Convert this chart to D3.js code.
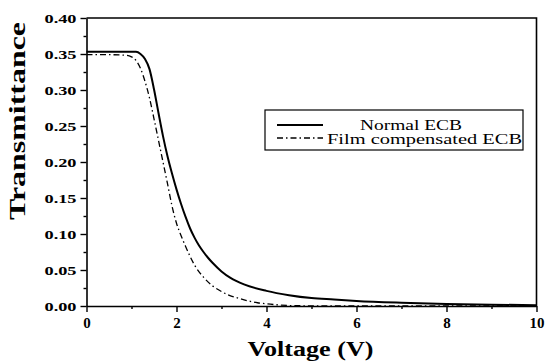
<!DOCTYPE html>
<html>
<head>
<meta charset="utf-8">
<script src="https://cdn.jsdelivr.net/npm/d3@7"></script>
<style>
  body { margin: 0; background: #fff; }
  text { font-family: "Liberation Serif", "Times New Roman", serif; }
</style>
</head>
<body>
<div id="chart"></div>
<script>
// values
var normalV = [0, 0.5, 1.0, 1.1, 1.2, 1.3, 1.4, 1.5, 1.6, 1.7, 1.8, 1.9, 2.0, 2.1, 2.2, 2.3, 2.4, 2.5, 2.6, 2.7, 2.8, 3.0, 3.2, 3.5, 4.0, 4.5, 5.0, 5.5, 6, 7, 8, 9, 10];
var normalT = [0.353, 0.353, 0.353, 0.353, 0.350, 0.343, 0.329, 0.301, 0.268, 0.236, 0.208, 0.184, 0.162, 0.142, 0.124, 0.108, 0.095, 0.084, 0.075, 0.067, 0.060, 0.048, 0.039, 0.030, 0.021, 0.015, 0.011, 0.009, 0.007, 0.0045, 0.0028, 0.0018, 0.0012];

var filmV = [0, 0.5, 0.9, 1.0, 1.1, 1.2, 1.3, 1.4, 1.5, 1.6, 1.7, 1.8, 1.9, 2.0, 2.1, 2.2, 2.4, 2.6, 2.8, 3.0, 3.2, 3.4, 3.6, 3.8, 4.0, 4.3, 4.6, 5.0, 6, 8, 10];
var filmT = [0.349, 0.349, 0.348, 0.346, 0.341, 0.330, 0.312, 0.289, 0.260, 0.230, 0.200, 0.170, 0.139, 0.115, 0.098, 0.083, 0.057, 0.040, 0.028, 0.020, 0.014, 0.0105, 0.007, 0.0045, 0.003, 0.0014, 0.0005, 0.0002, 0, 0, 0];

var seriesNames = ["Normal ECB", "Film compensated ECB"];
var xTicks = [0, 2, 4, 6, 8, 10];
var xMinor = [1, 3, 5, 7, 9];
var yTicks = [0, 0.05, 0.10, 0.15, 0.20, 0.25, 0.30, 0.35, 0.40];
var yMinor = [0.025, 0.075, 0.125, 0.175, 0.225, 0.275, 0.325, 0.375];

var W = 545, H = 363;
var pl = 86.5, pr = 536.5, pt = 18, pb = 306;

var svg = d3.select("#chart").append("svg")
    .attr("width", W)
    .attr("height", H);

var x = d3.scaleLinear().domain([0, 10]).range([pl, pr]);
var y = d3.scaleLinear().domain([0, 0.4]).range([pb, pt]);

// frame (top / right)
svg.append("path")
    .attr("d", "M" + pl + "," + pt + "H" + pr + "V" + pb)
    .attr("fill", "none")
    .attr("stroke", "#000")
    .attr("stroke-width", 1.6);

// x axis
svg.append("g")
    .attr("transform", "translate(0," + pb + ")")
    .call(d3.axisBottom(x).tickValues(xMinor).tickSize(3).tickFormat(""))
    .call(function (g) { g.select(".domain").remove(); })
    .selectAll("line").attr("stroke-width", 1.4);

var xAxis = svg.append("g")
    .attr("transform", "translate(0," + pb + ")")
    .call(d3.axisBottom(x).tickValues(xTicks).tickSize(6).tickSizeOuter(0).tickPadding(5)
        .tickFormat(d3.format("d")));
xAxis.select(".domain").attr("stroke-width", 1.6);
xAxis.selectAll("line").attr("stroke-width", 1.4);
xAxis.selectAll("text")
    .attr("font-family", "Liberation Serif")
    .attr("font-weight", "bold")
    .attr("font-size", 15)
    .attr("fill", "#000");
xAxis.attr("font-size", 15).attr("font-family", null);

// y axis
svg.append("g")
    .attr("transform", "translate(" + pl + ",0)")
    .call(d3.axisLeft(y).tickValues(yMinor).tickSize(3).tickFormat(""))
    .call(function (g) { g.select(".domain").remove(); })
    .selectAll("line").attr("stroke-width", 1.4);

var yAxis = svg.append("g")
    .attr("transform", "translate(" + pl + ",0)")
    .call(d3.axisLeft(y).tickValues(yTicks).tickSize(6).tickSizeOuter(0).tickPadding(4)
        .tickFormat(d3.format(".2f")));
yAxis.attr("font-size", 13).attr("font-family", null);
yAxis.select(".domain").attr("stroke-width", 1.6);
yAxis.selectAll("line").attr("stroke-width", 1.4);
yAxis.selectAll("text")
    .attr("font-weight", "bold")
    .attr("fill", "#000")
    .attr("textLength", 32)
    .attr("lengthAdjust", "spacingAndGlyphs");

// axis titles
svg.append("text")
    .attr("x", (pl + pr) / 2 - 1)
    .attr("y", 356)
    .attr("text-anchor", "middle")
    .attr("font-weight", "bold")
    .attr("font-size", 20)
    .attr("textLength", 126)
    .attr("lengthAdjust", "spacingAndGlyphs")
    .text("Voltage (V)");

svg.append("text")
    .attr("transform", "translate(25,121) rotate(-90)")
    .attr("text-anchor", "middle")
    .attr("font-weight", "bold")
    .attr("font-size", 23)
    .attr("textLength", 198)
    .attr("lengthAdjust", "spacingAndGlyphs")
    .text("Transmittance");

// curves
var line = d3.line()
    .x(function (d) { return x(d[0]); })
    .y(function (d) { return y(d[1]); })
    .curve(d3.curveMonotoneX);

var normalData = normalV.map(function (v, i) { return [v, normalT[i]]; });
var filmData = filmV.map(function (v, i) { return [v, filmT[i]]; });

svg.append("path")
    .datum(filmData)
    .attr("d", line)
    .attr("fill", "none")
    .attr("stroke", "#000")
    .attr("stroke-width", 1.3)
    .attr("stroke-dasharray", "6,3,1.5,3");

svg.append("path")
    .datum(normalData)
    .attr("d", line)
    .attr("fill", "none")
    .attr("stroke", "#000")
    .attr("stroke-width", 2);

// legend
var lg = svg.append("g");
lg.append("rect")
    .attr("x", 265).attr("y", 110)
    .attr("width", 258).attr("height", 40)
    .attr("fill", "#fff")
    .attr("stroke", "#000")
    .attr("stroke-width", 1.2);
lg.append("line")
    .attr("x1", 277).attr("x2", 323).attr("y1", 125).attr("y2", 125)
    .attr("stroke", "#000").attr("stroke-width", 2);
lg.append("line")
    .attr("x1", 277).attr("x2", 323).attr("y1", 138).attr("y2", 138)
    .attr("stroke", "#000").attr("stroke-width", 1.3)
    .attr("stroke-dasharray", "6,3,1.5,3");
lg.append("text")
    .attr("x", 360).attr("y", 130)
    .attr("font-size", 14)
    .attr("textLength", 102)
    .attr("lengthAdjust", "spacingAndGlyphs")
    .text(seriesNames[0]);
lg.append("text")
    .attr("x", 327).attr("y", 144)
    .attr("font-size", 14)
    .attr("textLength", 195)
    .attr("lengthAdjust", "spacingAndGlyphs")
    .text(seriesNames[1]);
</script>
</body>
</html>
